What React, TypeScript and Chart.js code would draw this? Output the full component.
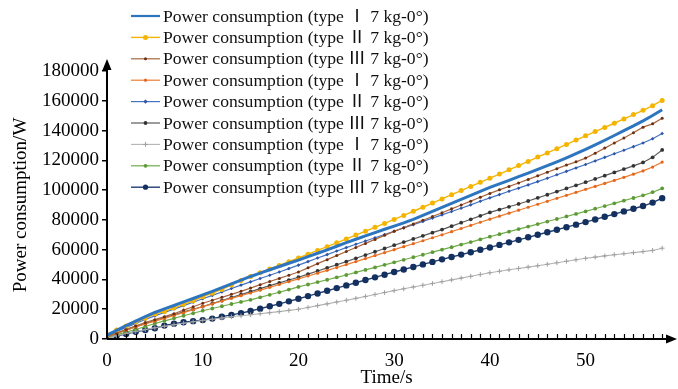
import { useEffect, useRef } from 'react';
import { Chart, registerables } from 'chart.js';

Chart.register(...registerables);

const FONT = "'Liberation Serif', 'Times New Roman', 'Noto Sans CJK SC', serif";

const TIME_S = [0, 1, 2, 3, 4, 5, 6, 7, 8, 9, 10, 11, 12, 13, 14, 15, 16, 17, 18, 19, 20, 21, 22, 23, 24, 25, 26, 27, 28, 29, 30, 31, 32, 33, 34, 35, 36, 37, 38, 39, 40, 41, 42, 43, 44, 45, 46, 47, 48, 49, 50, 51, 52, 53, 54, 55, 56, 57, 58];

const X_TICKS = [0, 10, 20, 30, 40, 50];

const LABELS = [
  'Power consumption (type Ⅰ 7 kg-0°)',
  'Power consumption (type Ⅱ 7 kg-0°)',
  'Power consumption (type Ⅲ 7 kg-0°)',
  'Power consumption (type Ⅰ 7 kg-0°)',
  'Power consumption (type Ⅱ 7 kg-0°)',
  'Power consumption (type Ⅲ 7 kg-0°)',
  'Power consumption (type Ⅰ 7 kg-0°)',
  'Power consumption (type Ⅱ 7 kg-0°)',
  'Power consumption (type Ⅲ 7 kg-0°)',
];

const TYPE1_A = [2500, 5800, 9000, 12000, 15000, 17800, 20200, 22500, 24900, 27200, 29600, 32000, 34500, 37000, 39500, 42000, 44300, 46500, 48700, 50900, 53000, 55300, 57600, 59900, 62300, 64700, 67000, 69300, 71500, 73700, 75800, 78000, 80400, 83000, 85700, 88400, 91100, 93800, 96500, 99200, 101800, 104200, 106600, 109000, 111400, 113900, 116400, 119000, 121700, 124500, 127400, 130400, 133500, 136700, 139900, 143100, 146500, 150100, 154000];

const TYPE2_A = [3000, 6000, 8700, 11400, 13900, 16800, 18500, 20800, 23300, 25700, 28400, 30800, 33300, 36300, 39300, 42000, 44500, 47000, 49400, 51900, 54400, 57000, 59500, 62000, 64600, 67200, 69800, 72400, 75000, 77600, 80300, 83000, 85800, 88500, 91300, 94100, 96900, 99700, 102500, 105200, 108000, 110800, 113600, 116500, 119300, 122200, 125000, 127800, 130700, 133600, 136500, 139300, 142100, 144900, 147800, 150700, 153600, 156700, 160200];

const TYPE3_A = [1500, 4000, 6500, 8800, 11000, 13000, 15000, 17000, 19400, 21700, 24000, 26000, 28000, 30000, 32000, 34200, 36500, 38600, 40700, 42800, 45000, 47800, 50600, 53300, 56000, 58800, 61500, 64200, 66900, 69600, 72300, 74800, 77300, 79800, 82300, 84800, 87400, 90000, 92600, 95200, 97800, 100200, 102500, 104800, 107200, 109600, 112000, 114400, 116800, 119000, 121500, 124800, 128200, 131600, 135000, 138500, 142300, 144500, 148300];

const TYPE1_B = [1500, 3800, 6000, 8100, 10100, 12000, 13900, 15800, 17700, 19700, 21700, 23600, 25500, 27300, 29100, 30900, 32800, 34700, 36600, 38500, 40400, 42300, 44200, 46100, 48000, 50000, 52000, 54000, 56000, 58000, 60000, 62000, 64000, 66000, 68000, 70000, 72100, 74200, 76300, 78400, 80500, 82500, 84500, 86500, 88500, 90500, 92500, 94500, 96500, 98500, 100500, 102500, 104500, 106500, 108600, 110700, 112900, 115500, 118800];

const TYPE2_B = [2000, 5000, 7800, 10500, 13100, 15500, 17800, 20100, 22400, 24700, 27000, 29300, 31600, 33900, 36200, 38400, 40600, 42800, 45000, 47300, 49600, 52000, 54400, 56700, 59100, 61400, 63600, 65800, 68000, 70200, 72400, 74600, 76800, 79000, 81200, 83400, 85600, 87800, 90100, 92500, 94800, 97000, 99200, 101300, 103500, 105700, 108000, 110300, 112600, 114900, 117200, 119600, 122000, 124400, 126800, 129200, 131600, 134500, 138000];

const TYPE3_B = [1500, 3800, 6000, 8200, 10300, 12400, 14400, 16300, 18200, 20000, 21800, 23800, 25800, 27800, 29800, 31800, 33800, 35800, 37700, 39600, 41500, 43600, 45700, 47800, 49900, 52000, 54200, 56400, 58600, 60800, 63000, 65100, 67200, 69300, 71400, 73500, 75800, 78100, 80400, 82700, 85000, 86900, 88800, 90700, 92700, 94800, 96900, 99000, 101100, 103200, 105300, 107500, 109700, 111900, 114100, 116300, 118600, 122000, 127000];

const TYPE1_C = [500, 2200, 3700, 5000, 6300, 7500, 8600, 9600, 10600, 11600, 12500, 13300, 14100, 14900, 15600, 16300, 17000, 17700, 18400, 19200, 20000, 21200, 22400, 23600, 24800, 26000, 27300, 28600, 29900, 31200, 32500, 33700, 34900, 36100, 37300, 38500, 39700, 40900, 42100, 43300, 44500, 45500, 46500, 47400, 48300, 49200, 50200, 51200, 52200, 53200, 54200, 55000, 55800, 56600, 57300, 58000, 58700, 59500, 61000];

const TYPE2_C = [1000, 2800, 4600, 6400, 8400, 10400, 12200, 13900, 15600, 17300, 19000, 20500, 22000, 23500, 24900, 26300, 28000, 29700, 31400, 33200, 35000, 36600, 38200, 39800, 41400, 43000, 44700, 46400, 48100, 49800, 51500, 53200, 54900, 56600, 58300, 60000, 61700, 63400, 65100, 66900, 68700, 70400, 72100, 73800, 75500, 77200, 78900, 80600, 82300, 84000, 85700, 87500, 89300, 91100, 92900, 94700, 96500, 98600, 101200];

const TYPE3_C = [1100, 2000, 3400, 4900, 6000, 7200, 9000, 10300, 11300, 12000, 12700, 13700, 15000, 16200, 17400, 18800, 20400, 22000, 23600, 25300, 27000, 28800, 30600, 32400, 34200, 36000, 37800, 39600, 41400, 43200, 45000, 46700, 48400, 50100, 51800, 53500, 55100, 56700, 58300, 59900, 61500, 63200, 64900, 66600, 68300, 70000, 71700, 73400, 75100, 76800, 78500, 80300, 82100, 83900, 85700, 87500, 89300, 91600, 94600];

const SERIES_VALUES = [TYPE1_A, TYPE2_A, TYPE3_A, TYPE1_B, TYPE2_B, TYPE3_B, TYPE1_C, TYPE2_C, TYPE3_C];

const STYLES = [
  { line: '#2E75C0', point: '#2E75C0', width: 3, radius: 0, shape: 'circle' },
  { line: '#F5B400', point: '#F5B400', width: 1.4, radius: 2.5, shape: 'circle' },
  { line: '#A8653E', point: '#6B2E12', width: 1.2, radius: 1.5, shape: 'circle' },
  { line: '#ED7D31', point: '#E2691E', width: 1.2, radius: 1.6, shape: 'circle' },
  { line: '#4472C4', point: '#2F55A4', width: 1.2, radius: 1.8, shape: 'rectRot' },
  { line: '#5A5A5A', point: '#333333', width: 1.2, radius: 1.9, shape: 'circle' },
  { line: '#B4B4B4', point: '#A0A0A0', width: 1.1, radius: 2.4, shape: 'cross' },
  { line: '#70AD47', point: '#5E9A38', width: 1.2, radius: 1.9, shape: 'circle' },
  { line: '#1F3D73', point: '#14305F', width: 1.4, radius: 3.2, shape: 'circle' },
];

function drawMarker(ctx: CanvasRenderingContext2D, shape: string, x: number, y: number, r: number, color: string) {
  if (r <= 0) return;
  ctx.save();
  ctx.fillStyle = color;
  ctx.strokeStyle = color;
  ctx.lineWidth = 1;
  ctx.beginPath();
  if (shape === 'cross') {
    ctx.moveTo(x - r, y);
    ctx.lineTo(x + r, y);
    ctx.moveTo(x, y - r);
    ctx.lineTo(x, y + r);
    ctx.stroke();
  } else if (shape === 'rectRot') {
    ctx.moveTo(x, y - r * 1.2);
    ctx.lineTo(x + r * 1.2, y);
    ctx.lineTo(x, y + r * 1.2);
    ctx.lineTo(x - r * 1.2, y);
    ctx.closePath();
    ctx.fill();
  } else {
    ctx.arc(x, y, r, 0, Math.PI * 2);
    ctx.fill();
  }
  ctx.restore();
}

const legendPlugin = {
  id: 'customLegend',
  afterDraw(chart: any) {
    const ctx = chart.ctx as CanvasRenderingContext2D;
    ctx.save();
    chart.data.datasets.forEach((ds: any, i: number) => {
      const st = STYLES[i];
      const y = 16 + i * 21.4;
      ctx.strokeStyle = st.line;
      ctx.lineWidth = Math.min(st.width, 2.2);
      ctx.beginPath();
      ctx.moveTo(131, y);
      ctx.lineTo(160, y);
      ctx.stroke();
      drawMarker(ctx, st.shape, 145.5, y, Math.min(st.radius, 2.6), st.point);
      ctx.fillStyle = '#111';
      ctx.font = `17.6px ${FONT}`;
      ctx.textAlign = 'left';
      ctx.textBaseline = 'middle';
      ctx.fillText(ds.label, 163, y + 1);
    });
    ctx.restore();
  },
};

const axesPlugin = {
  id: 'arrowAxes',
  afterDraw(chart: any) {
    const ctx = chart.ctx as CanvasRenderingContext2D;
    const { left, right, top, bottom } = chart.chartArea;
    const xs = chart.scales.x;
    ctx.save();
    ctx.strokeStyle = '#000';
    ctx.fillStyle = '#000';
    ctx.lineWidth = 2;
    ctx.beginPath();
    ctx.moveTo(left, bottom);
    ctx.lineTo(left, top - 4);
    ctx.moveTo(left, bottom);
    ctx.lineTo(right + 2, bottom);
    ctx.stroke();
    ctx.beginPath();
    ctx.moveTo(left, top - 12);
    ctx.lineTo(left - 4.5, top - 1);
    ctx.lineTo(left + 4.5, top - 1);
    ctx.closePath();
    ctx.fill();
    ctx.beginPath();
    ctx.moveTo(right + 11, bottom);
    ctx.lineTo(right, bottom - 4.5);
    ctx.lineTo(right, bottom + 4.5);
    ctx.closePath();
    ctx.fill();
    ctx.lineWidth = 1.2;
    ctx.beginPath();
    for (let t = 1; t <= TIME_S[TIME_S.length - 1]; t++) {
      const px = Math.round(xs.getPixelForValue(t)) + 0.5;
      ctx.moveTo(px, bottom);
      ctx.lineTo(px, bottom - 5);
    }
    ctx.stroke();
    ctx.restore();
  },
};

export default function App() {
  const ref = useRef<HTMLCanvasElement>(null);

  useEffect(() => {
    if (!ref.current) return;
    const datasets = SERIES_VALUES.map((vals, i) => {
      const st = STYLES[i];
      return {
        label: LABELS[i],
        data: vals.map((v, k) => ({ x: TIME_S[k], y: v })),
        borderColor: st.line,
        backgroundColor: st.point,
        borderWidth: st.width,
        pointRadius: st.radius,
        pointStyle: st.shape,
        pointBackgroundColor: st.point,
        pointBorderColor: st.point,
        pointBorderWidth: st.shape === 'cross' ? 1 : 0,
        tension: 0,
        fill: false,
      };
    });

    const chart = new Chart(ref.current, {
      type: 'line',
      data: { datasets },
      plugins: [axesPlugin, legendPlugin],
      options: {
        animation: false,
        responsive: false,
        layout: { padding: { top: 71, right: 12, left: 0, bottom: 0 } },
        plugins: { legend: { display: false }, tooltip: { enabled: false } },
        scales: {
          x: {
            type: 'linear',
            min: 0,
            max: 58.4,
            afterFit: (s: any) => { s.height = 50; },
            afterBuildTicks: (s: any) => { s.ticks = X_TICKS.map((v) => ({ value: v })); },
            grid: { display: false },
            border: { display: false },
            ticks: { color: '#000', font: { family: FONT, size: 19 }, padding: 3, maxRotation: 0, autoSkip: false },
            title: { display: true, text: 'Time/s', color: '#000', font: { family: FONT, size: 19 }, padding: { top: 0, bottom: 0 } },
          },
          y: {
            min: 0,
            max: 180000,
            afterFit: (s: any) => { s.width = 107; },
            grid: { display: true, drawOnChartArea: false, drawTicks: true, tickLength: 5, color: '#000', lineWidth: 1.5 },
            border: { display: false },
            ticks: { stepSize: 20000, color: '#000', font: { family: FONT, size: 19 }, padding: 3, callback: (v: any) => String(v) },
            title: { display: true, text: 'Power consumption/W', color: '#000', font: { family: FONT, size: 19 }, padding: { top: 10, bottom: 0 } },
          },
        },
      } as any,
    });
    return () => chart.destroy();
  }, []);

  return (
    <div style={{ position: 'fixed', left: 0, top: 0, width: 678, height: 389, background: '#fff' }}>
      <canvas ref={ref} width={678} height={389} style={{ display: 'block' }} />
    </div>
  );
}
